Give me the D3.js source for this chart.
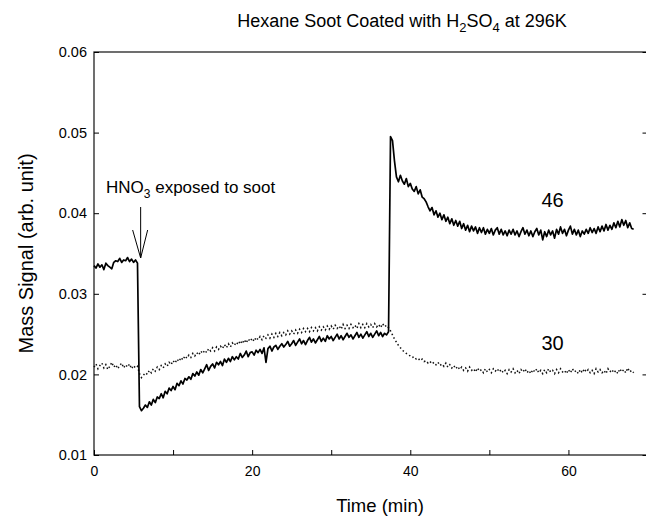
<!DOCTYPE html>
<html>
<head>
<meta charset="utf-8">
<script src="https://cdn.jsdelivr.net/npm/d3@7"></script>
<style>
  body { margin: 0; background: #fff; }
  text { font-family: "Liberation Sans", Arial, sans-serif; fill: #000; }
</style>
</head>
<body>
<div id="chart"></div>
<script>
// sampling: one point every 0.25 min starting at t = 0
const sampleStep = 0.25;

// m/z 46 signal (solid)
const mass46 = [
  0.0335, 0.0332, 0.0337, 0.0333, 0.0336, 0.0330, 0.0338, 0.0335,
  0.0333, 0.0331, 0.0339, 0.0341, 0.0340, 0.0344, 0.0339, 0.0342,
  0.0341, 0.0345, 0.0340, 0.0343, 0.0339, 0.0342, 0.0338, 0.0160,
  0.0155, 0.0158, 0.0162, 0.0159, 0.0166, 0.0162, 0.0169, 0.0165,
  0.0172, 0.0170, 0.0176, 0.0171, 0.0179, 0.0176, 0.0183, 0.0180,
  0.0185, 0.0181, 0.0189, 0.0186, 0.0192, 0.0188, 0.0195, 0.0193,
  0.0197, 0.0194, 0.0201, 0.0198, 0.0203, 0.0199, 0.0206, 0.0202,
  0.0207, 0.0212, 0.0205, 0.0210, 0.0213, 0.0208, 0.0215, 0.0212,
  0.0216, 0.0211, 0.0219, 0.0215, 0.0220, 0.0216, 0.0222, 0.0218,
  0.0222, 0.0219, 0.0226, 0.0221, 0.0224, 0.0229, 0.0222, 0.0227,
  0.0228, 0.0224, 0.0230, 0.0227, 0.0231, 0.0226, 0.0233, 0.0215,
  0.0232, 0.0235, 0.0229, 0.0234, 0.0236, 0.0231, 0.0235, 0.0238,
  0.0234, 0.0237, 0.0241, 0.0235, 0.0238, 0.0242, 0.0236, 0.0240,
  0.0244, 0.0238, 0.0242, 0.0237, 0.0242, 0.0246, 0.0240, 0.0244,
  0.0239, 0.0243, 0.0247, 0.0241, 0.0245, 0.0241, 0.0248, 0.0244,
  0.0247, 0.0242, 0.0246, 0.0250, 0.0244, 0.0248, 0.0243, 0.0247,
  0.0251, 0.0246, 0.0249, 0.0244, 0.0248, 0.0252, 0.0246, 0.0250,
  0.0245, 0.0249, 0.0253, 0.0247, 0.0251, 0.0246, 0.0250, 0.0254,
  0.0248, 0.0252, 0.0247, 0.0251, 0.0249, 0.0253, 0.0495, 0.0490,
  0.0465, 0.0445, 0.0439, 0.0447, 0.0440, 0.0436, 0.0443, 0.0433,
  0.0437, 0.0430, 0.0427, 0.0433, 0.0424, 0.0429, 0.0420, 0.0418,
  0.0414, 0.0408, 0.0403, 0.0407, 0.0398, 0.0403, 0.0395, 0.0400,
  0.0392, 0.0398, 0.0390, 0.0395, 0.0387, 0.0393, 0.0385, 0.0391,
  0.0384, 0.0390, 0.0381, 0.0387, 0.0379, 0.0385, 0.0377, 0.0384,
  0.0378, 0.0383, 0.0375, 0.0382, 0.0376, 0.0382, 0.0374, 0.0380,
  0.0375, 0.0381, 0.0373, 0.0379, 0.0382, 0.0374, 0.0380, 0.0373,
  0.0378, 0.0372, 0.0379, 0.0374, 0.0380, 0.0373, 0.0378, 0.0371,
  0.0377, 0.0382, 0.0374, 0.0379, 0.0372, 0.0378, 0.0371, 0.0377,
  0.0381, 0.0373, 0.0379, 0.0367, 0.0377, 0.0371, 0.0379, 0.0373,
  0.0378, 0.0369, 0.0380, 0.0374, 0.0383, 0.0375, 0.0380, 0.0372,
  0.0379, 0.0384, 0.0374, 0.0380, 0.0373, 0.0379, 0.0371, 0.0378,
  0.0374, 0.0380, 0.0375, 0.0382, 0.0376, 0.0381, 0.0375, 0.0383,
  0.0377, 0.0384, 0.0378, 0.0386, 0.0379, 0.0385, 0.0380, 0.0388,
  0.0382, 0.0390, 0.0383, 0.0392, 0.0385, 0.0391, 0.0382, 0.0388,
  0.0381, 0.0380
];

// m/z 30 signal (dotted)
const mass30 = [
  0.0209, 0.0213, 0.0207, 0.0211, 0.0214, 0.0208, 0.0212, 0.0206,
  0.0210, 0.0215, 0.0209, 0.0212, 0.0207, 0.0211, 0.0214, 0.0208,
  0.0212, 0.0209, 0.0213, 0.0207, 0.0211, 0.0208, 0.0210, 0.0201,
  0.0196, 0.0199, 0.0202, 0.0200, 0.0205, 0.0202, 0.0207, 0.0204,
  0.0209, 0.0206, 0.0211, 0.0208, 0.0213, 0.0210, 0.0215, 0.0212,
  0.0217, 0.0214, 0.0219, 0.0216, 0.0221, 0.0218, 0.0223, 0.0220,
  0.0224, 0.0221, 0.0226, 0.0223, 0.0227, 0.0224, 0.0229, 0.0226,
  0.0230, 0.0227, 0.0232, 0.0229, 0.0233, 0.0229, 0.0234, 0.0231,
  0.0235, 0.0232, 0.0237, 0.0233, 0.0238, 0.0234, 0.0239, 0.0236,
  0.0240, 0.0237, 0.0242, 0.0238, 0.0243, 0.0239, 0.0244, 0.0241,
  0.0245, 0.0241, 0.0246, 0.0243, 0.0247, 0.0243, 0.0248, 0.0245,
  0.0249, 0.0245, 0.0250, 0.0246, 0.0251, 0.0247, 0.0252, 0.0248,
  0.0252, 0.0249, 0.0254, 0.0250, 0.0254, 0.0250, 0.0255, 0.0251,
  0.0256, 0.0252, 0.0257, 0.0253, 0.0257, 0.0253, 0.0258, 0.0254,
  0.0258, 0.0254, 0.0259, 0.0255, 0.0259, 0.0255, 0.0260, 0.0256,
  0.0260, 0.0256, 0.0261, 0.0257, 0.0260, 0.0256, 0.0262, 0.0257,
  0.0261, 0.0257, 0.0262, 0.0258, 0.0261, 0.0257, 0.0263, 0.0258,
  0.0262, 0.0258, 0.0263, 0.0259, 0.0262, 0.0258, 0.0263, 0.0259,
  0.0262, 0.0258, 0.0263, 0.0259, 0.0261, 0.0258, 0.0254, 0.0249,
  0.0244, 0.0240, 0.0236, 0.0233, 0.0230, 0.0228, 0.0226, 0.0224,
  0.0223, 0.0221, 0.0222, 0.0219, 0.0220, 0.0217, 0.0219, 0.0216,
  0.0217, 0.0214, 0.0216, 0.0213, 0.0215, 0.0212, 0.0215, 0.0211,
  0.0213, 0.0210, 0.0214, 0.0209, 0.0212, 0.0208, 0.0211, 0.0207,
  0.0210, 0.0206, 0.0209, 0.0205, 0.0208, 0.0204, 0.0209, 0.0205,
  0.0207, 0.0203, 0.0208, 0.0204, 0.0206, 0.0202, 0.0207, 0.0203,
  0.0206, 0.0202, 0.0207, 0.0204, 0.0207, 0.0203, 0.0206, 0.0202,
  0.0205, 0.0201, 0.0206, 0.0203, 0.0207, 0.0202, 0.0205, 0.0201,
  0.0206, 0.0203, 0.0207, 0.0202, 0.0205, 0.0201, 0.0206, 0.0203,
  0.0207, 0.0202, 0.0205, 0.0201, 0.0206, 0.0202, 0.0207, 0.0203,
  0.0205, 0.0201, 0.0206, 0.0202, 0.0207, 0.0203, 0.0205, 0.0201,
  0.0206, 0.0202, 0.0207, 0.0203, 0.0205, 0.0201, 0.0206, 0.0202,
  0.0207, 0.0203, 0.0206, 0.0202, 0.0205, 0.0201, 0.0207, 0.0203,
  0.0206, 0.0202, 0.0205, 0.0201, 0.0207, 0.0203, 0.0206, 0.0202,
  0.0205, 0.0201, 0.0207, 0.0203, 0.0206, 0.0202, 0.0208, 0.0203,
  0.0205, 0.0202
];

const xTicks = [0, 10, 20, 30, 40, 50, 60, 70];
const xTickLabels = [0, 20, 40, 60];
const yTicks = [0.01, 0.02, 0.03, 0.04, 0.05, 0.06];

const exposureTime = 5.9;

const width = 646, height = 519;
const margin = { top: 52, right: -1.5, bottom: 64, left: 94 };

const svg = d3.select("#chart").append("svg")
    .attr("width", width)
    .attr("height", height);

const x = d3.scaleLinear().domain([0, 70]).range([margin.left, width - margin.right]);
const y = d3.scaleLinear().domain([0.01, 0.06]).range([height - margin.bottom, margin.top]);

// frame
svg.append("rect")
    .attr("x", x(0)).attr("y", y(0.06))
    .attr("width", x(70) - x(0)).attr("height", y(0.01) - y(0.06))
    .attr("fill", "none").attr("stroke", "#222").attr("stroke-width", 1.3);

const xAxis = svg.append("g")
    .attr("transform", `translate(0,${y(0.01)})`)
    .call(d3.axisBottom(x).tickValues(xTicks).tickSize(-5).tickPadding(11)
        .tickFormat(d => xTickLabels.includes(d) ? d : ""));
xAxis.select(".domain").remove();
xAxis.selectAll("text").style("font-size", "14px");

const yAxis = svg.append("g")
    .attr("transform", `translate(${x(0)},0)`)
    .call(d3.axisLeft(y).tickValues(yTicks).tickSize(-5).tickPadding(7)
        .tickFormat(d3.format(".2f")));
yAxis.select(".domain").remove();
yAxis.selectAll("text").style("font-size", "14.5px");

const yAxisRight = svg.append("g")
    .attr("transform", `translate(${x(70)},0)`)
    .call(d3.axisRight(y).tickValues(yTicks).tickSize(-5).tickFormat(""));
yAxisRight.select(".domain").remove();

const line = d3.line()
    .x((d, i) => x(i * sampleStep))
    .y(d => y(d));

svg.append("path")
    .datum(mass30)
    .attr("d", line)
    .attr("fill", "none")
    .attr("stroke", "#111")
    .attr("stroke-width", 1.5)
    .attr("stroke-dasharray", "1.5,2.5");

svg.append("path")
    .datum(mass46)
    .attr("d", line)
    .attr("fill", "none")
    .attr("stroke", "#000")
    .attr("stroke-width", 1.7)
    .attr("stroke-linejoin", "round");

// title
const title = svg.append("text")
    .attr("x", 402).attr("y", 27)
    .attr("text-anchor", "middle")
    .style("font-size", "18px");
title.append("tspan").text("Hexane Soot Coated with H");
title.append("tspan").text("2").attr("dy", 5).style("font-size", "13px");
title.append("tspan").text("SO").attr("dy", -5);
title.append("tspan").text("4").attr("dy", 5).style("font-size", "13px");
title.append("tspan").text(" at 296K").attr("dy", -5);

// axis titles
svg.append("text")
    .attr("x", 380).attr("y", 512)
    .attr("text-anchor", "middle")
    .style("font-size", "18.5px")
    .text("Time (min)");

svg.append("text")
    .attr("transform", `translate(33,${(y(0.01) + y(0.06)) / 2}) rotate(-90)`)
    .attr("text-anchor", "middle")
    .style("font-size", "20px")
    .text("Mass Signal (arb. unit)");

// exposure annotation
const note = svg.append("text")
    .attr("x", 106).attr("y", 193)
    .style("font-size", "17px");
note.append("tspan").text("HNO");
note.append("tspan").text("3").attr("dy", 5).style("font-size", "12px");
note.append("tspan").text(" exposed to soot").attr("dy", -5);

const ax = x(exposureTime);
svg.append("line")
    .attr("x1", ax).attr("x2", ax).attr("y1", 207).attr("y2", 258)
    .attr("stroke", "#000").attr("stroke-width", 1);
svg.append("path")
    .attr("d", `M${ax - 8},230 L${ax},258 L${ax + 7},230`)
    .attr("fill", "none").attr("stroke", "#000").attr("stroke-width", 1);

// series labels
svg.append("text").attr("x", x(58)).attr("y", 207)
    .attr("text-anchor", "middle").style("font-size", "20px").text("46");
svg.append("text").attr("x", x(58)).attr("y", 350)
    .attr("text-anchor", "middle").style("font-size", "20px").text("30");
</script>
</body>
</html>
